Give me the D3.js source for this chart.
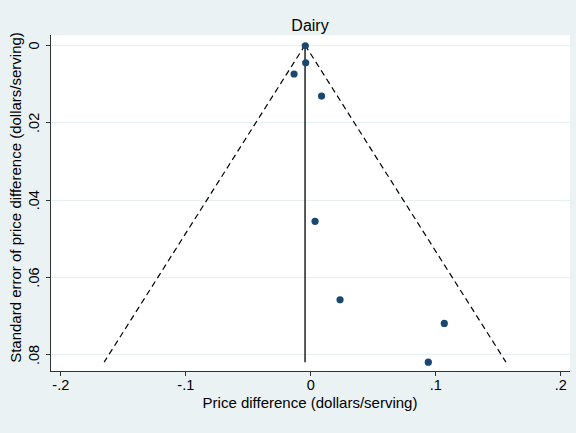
<!DOCTYPE html>
<html lang="en">
<script src="https://d3js.org/d3.v7.min.js"></script>
<style>
    body {margin: 0; background: #eaf2f3;}
    text {font-family: "Liberation Sans", Arial, sans-serif; fill: black;}
    .grid line {stroke: #e6eff1; stroke-width: 1;}
    .axis line {stroke: #333; shape-rendering: crispEdges;}
</style>
<body>
    <svg width="576" height="433"></svg>
</body>
<script>
    // study estimates and their standard errors
    var estimates = [-0.0040, -0.0037, -0.0130, 0.0090, 0.0038, 0.0238, 0.1072, 0.0944];
    var stdErrors = [0.0002, 0.0046, 0.0075, 0.0132, 0.0456, 0.0659, 0.0720, 0.0820];
    var pooled = -0.0042;
    var xTicks = [-0.2, -0.1, 0, 0.1, 0.2];
    var xTickLabels = ["-.2", "-.1", "0", ".1", ".2"];
    var yTicks = [0, 0.02, 0.04, 0.06, 0.08];
    var yTickLabels = ["0", ".02", ".04", ".06", ".08"];

    var svg = d3.select("svg");
    var pLeft = 51, pRight = 570, pTop = 35, pBottom = 371;

    svg.append("rect").attr("width", 576).attr("height", 433).attr("fill", "#eaf2f3");
    svg.append("rect").attr("x", pLeft).attr("y", pTop)
        .attr("width", pRight - pLeft).attr("height", pBottom - pTop).attr("fill", "white");

    var x = d3.scaleLinear().domain([-0.2, 0.2]).range([60.3, 560.3]);
    var y = d3.scaleLinear().domain([0, 0.08]).range([45, 354.4]);

    // gridlines
    svg.append("g").attr("class", "grid").selectAll("line").data(yTicks).enter().append("line")
        .attr("x1", pLeft + 1).attr("x2", pRight)
        .attr("y1", function(d){return Math.round(y(d)) + 0.5;})
        .attr("y2", function(d){return Math.round(y(d)) + 0.5;});

    // axes
    var xAxis = d3.axisBottom(x).tickValues(xTicks).tickSize(5).tickPadding(4)
        .tickFormat(function(d, i){return xTickLabels[i];});
    var gx = svg.append("g").attr("class", "axis").attr("transform", "translate(0," + pBottom + ")").call(xAxis);
    gx.select(".domain").remove();
    gx.append("line").attr("x1", pLeft - 1).attr("x2", pRight).attr("y1", 0.5).attr("y2", 0.5);
    gx.selectAll(".tick text").attr("font-size", 14.5).attr("fill", "black")
        .attr("font-family", "Liberation Sans, Arial, sans-serif");

    var yAxis = d3.axisLeft(y).tickValues(yTicks).tickSize(5)
        .tickFormat(function(d, i){return yTickLabels[i];});
    var gy = svg.append("g").attr("class", "axis").attr("transform", "translate(" + pLeft + ",0)").call(yAxis);
    gy.select(".domain").remove();
    gy.append("line").attr("x1", -0.5).attr("x2", -0.5).attr("y1", pTop).attr("y2", pBottom + 1);
    gy.selectAll(".tick text")
        .attr("font-size", 14.5).attr("fill", "black").attr("font-family", "Liberation Sans, Arial, sans-serif")
        .attr("x", null).attr("dy", null)
        .attr("text-anchor", "middle")
        .attr("transform", "translate(-12.5,0) rotate(-90)");

    // funnel (pseudo 95% confidence limits)
    var maxSe = d3.max(stdErrors);
    var funnel = [
        [[pooled, 0], [pooled - 1.96 * maxSe, maxSe]],
        [[pooled, 0], [pooled + 1.96 * maxSe, maxSe]]
    ];
    svg.append("g").selectAll("path").data(funnel).enter().append("path")
        .attr("d", d3.line().x(function(d){return x(d[0]);}).y(function(d){return y(d[1]);}))
        .attr("fill", "none").attr("stroke", "black").attr("stroke-width", 1.2)
        .attr("stroke-dasharray", "6,4");

    svg.append("line")
        .attr("x1", x(pooled)).attr("x2", x(pooled))
        .attr("y1", y(0)).attr("y2", y(maxSe))
        .attr("stroke", "#222").attr("stroke-width", 1.5);

    // points
    svg.append("g").selectAll("circle").data(estimates).enter().append("circle")
        .attr("cx", function(d){return x(d);})
        .attr("cy", function(d, i){return y(stdErrors[i]);})
        .attr("r", 3.6).attr("fill", "#1a476f");

    // labels
    svg.append("text").attr("x", 310).attr("y", 31)
        .attr("text-anchor", "middle").attr("font-size", 16).text("Dairy");
    svg.append("text").attr("x", 310).attr("y", 408)
        .attr("text-anchor", "middle").attr("font-size", 15).text("Price difference (dollars/serving)");
    svg.append("text").attr("transform", "translate(21,197.5) rotate(-90)")
        .attr("text-anchor", "middle").attr("font-size", 15).text("Standard error of price difference (dollars/serving)");
</script>
</html>
